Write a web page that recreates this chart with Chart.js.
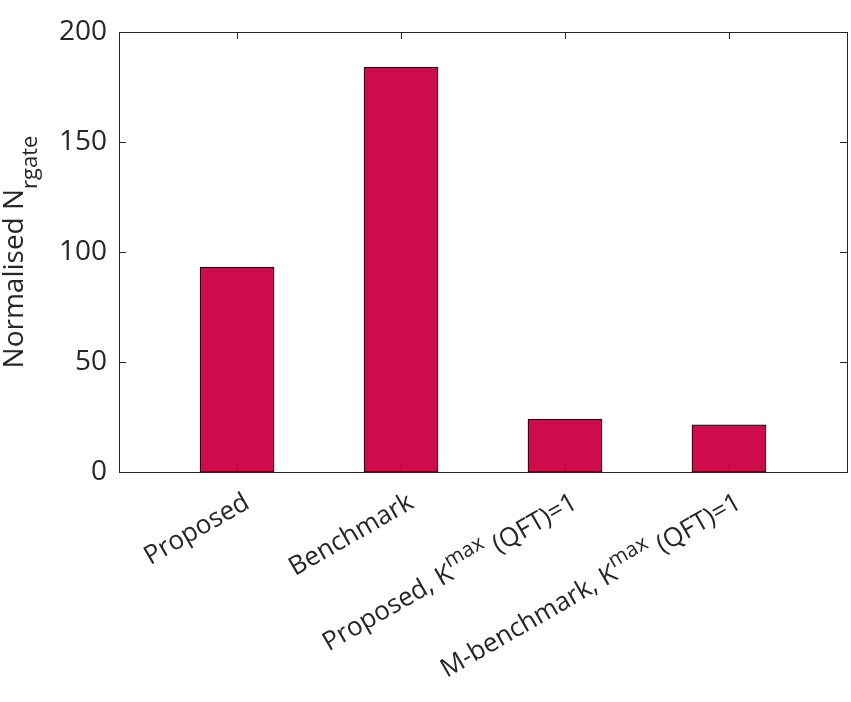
<!DOCTYPE html>
<html>
<head>
<meta charset="utf-8">
<script src="https://cdn.jsdelivr.net/npm/chart.js@4/dist/chart.umd.min.js"></script>
<style>
  html, body { margin: 0; padding: 0; background: #fff; }
  #wrap { width: 851px; height: 702px; }
</style>
</head>
<body>
<div id="wrap"><canvas id="chart" width="851" height="702"></canvas></div>
<script>
// categories use ^{..} for superscript, _{..} for subscript
const categories = ["Proposed", "Benchmark", "Proposed, K^{max}(QFT)=1", "M-benchmark, K^{max}(QFT)=1"];
const values = [93.2, 184.1, 24.1, 21.4];
const yTicks = [0, 50, 100, 150, 200];
const yTitle = "Normalised N_{rgate}";

const FONT = "'Open Sans', 'Noto Sans', sans-serif";
const INK = "#262626";

function parseRich(text) {
  const parts = [];
  const re = /([\^_])\{([^}]*)\}/g;
  let last = 0, m;
  while ((m = re.exec(text))) {
    if (m.index > last) parts.push({ t: text.slice(last, m.index), kind: "" });
    parts.push({ t: m[2], kind: m[1] === "^" ? "sup" : "sub" });
    last = re.lastIndex;
  }
  if (last < text.length) parts.push({ t: text.slice(last), kind: "" });
  return parts;
}

// draws rich text on the current transform, baseline at y=0
function drawRich(ctx, text, opt) {
  const parts = parseRich(text);
  const fontFor = (p) => `${p.kind ? opt.small : opt.size}px ${FONT}`;
  let total = 0;
  parts.forEach((p) => {
    ctx.font = fontFor(p);
    p.w = ctx.measureText(p.t).width + (p.kind ? opt.gap : 0);
    total += p.w;
  });
  let x = opt.align === "right" ? -total : opt.align === "center" ? -total / 2 : 0;
  ctx.textAlign = "left";
  ctx.textBaseline = "alphabetic";
  parts.forEach((p) => {
    ctx.font = fontFor(p);
    const dy = p.kind === "sup" ? -opt.sup : p.kind === "sub" ? opt.sub : 0;
    ctx.fillText(p.t, x, dy);
    x += p.w;
  });
}

const framePlugin = {
  id: "frame",
  afterDatasetsDraw(chart) {
    const { ctx, chartArea: a, scales } = chart;
    const tick = 7;
    ctx.save();
    ctx.strokeStyle = INK;
    ctx.lineWidth = 1;
    ctx.beginPath();
    categories.forEach((_, i) => {
      const x = Math.round(scales.x.getPixelForValue(i + 1)) + 0.5;
      ctx.moveTo(x, a.bottom); ctx.lineTo(x, a.bottom - tick);
      ctx.moveTo(x, a.top); ctx.lineTo(x, a.top + tick);
    });
    yTicks.forEach((v) => {
      const y = Math.round(scales.y.getPixelForValue(v)) + 0.5;
      ctx.moveTo(a.left, y); ctx.lineTo(a.left + tick, y);
      ctx.moveTo(a.right, y); ctx.lineTo(a.right - tick, y);
    });
    ctx.stroke();
    ctx.strokeRect(Math.round(a.left) + 0.5, Math.round(a.top) + 0.5, Math.round(a.right - a.left), Math.round(a.bottom - a.top));

    ctx.fillStyle = INK;
    categories.forEach((label, i) => {
      const x = scales.x.getPixelForValue(i + 1);
      ctx.save();
      ctx.translate(x + 14, a.bottom + 35);
      ctx.rotate(-Math.PI / 6);
      drawRich(ctx, label, { size: 26, small: 21, align: "right", sup: 12, sub: 6, gap: 8 });
      ctx.restore();
    });

    ctx.save();
    ctx.translate(23, (a.top + a.bottom) / 2);
    ctx.rotate(-Math.PI / 2);
    drawRich(ctx, yTitle, { size: 28, small: 22, align: "center", sup: 10, sub: 14, gap: 0 });
    ctx.restore();
    ctx.restore();
  },
};

new Chart(document.getElementById("chart"), {
  type: "bar",
  data: {
    datasets: [{
      data: values.map((v, i) => ({ x: i + 1, y: v })),
      backgroundColor: "#CE0C4C",
      borderColor: "#000000",
      borderWidth: 1,
      borderSkipped: false,
      barThickness: 74,
    }],
  },
  options: {
    responsive: false,
    animation: false,
    layout: { padding: { top: 32, right: 4, bottom: 230, left: 0 } },
    plugins: { legend: { display: false }, tooltip: { enabled: false } },
    scales: {
      x: { type: "linear", display: false, offset: false, min: 0.28, max: 4.72 },
      y: {
        min: 0,
        max: 200,
        afterFit: (scale) => { scale.width = 119; },
        afterBuildTicks: (scale) => { scale.ticks = yTicks.map((v) => ({ value: v })); },
        grid: { display: false, drawTicks: false },
        border: { display: false },
        ticks: { font: { family: FONT, size: 28 }, color: INK, padding: 12 },
      },
    },
  },
  plugins: [framePlugin],
});
</script>
</body>
</html>
